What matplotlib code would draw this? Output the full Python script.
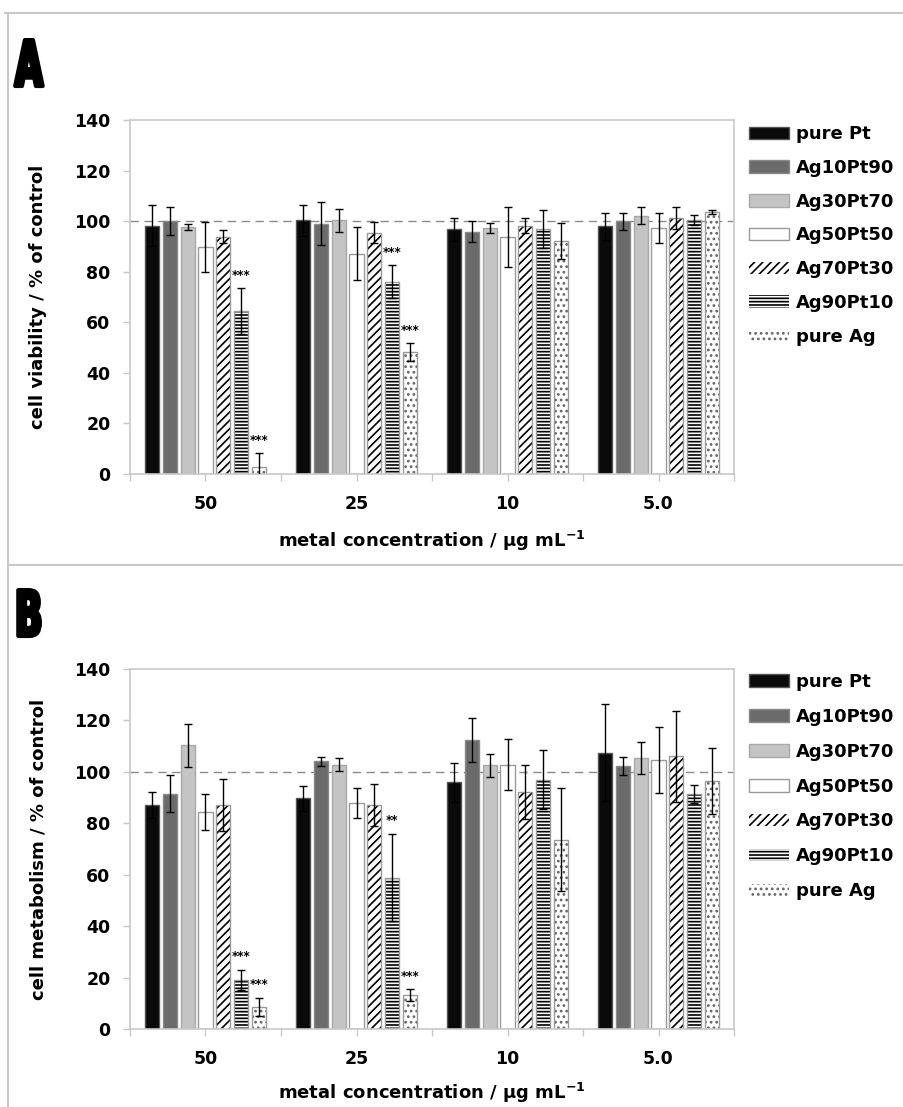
import numpy as np
import matplotlib.pyplot as plt
from matplotlib.lines import Line2D
from matplotlib.textpath import TextPath
from matplotlib.patches import PathPatch
from matplotlib.font_manager import FontProperties
from matplotlib.transforms import Affine2D

# categories and series
categories = ['50', '25', '10', '5.0']
series = ['pure Pt', 'Ag10Pt90', 'Ag30Pt70', 'Ag50Pt50', 'Ag70Pt30', 'Ag90Pt10', 'pure Ag']

# panel A: cell viability (% of control), one row per series
viab = [
    [98.2, 100.3, 96.8, 97.9],
    [99.9, 98.9, 95.9, 99.9],
    [97.5, 100.3, 97.2, 102.2],
    [89.7, 87.1, 93.7, 97.2],
    [93.9, 95.5, 98.2, 101.2],
    [64.5, 76.1, 97.0, 100.5],
    [2.9, 48.2, 92.1, 103.6],
]
viab_err = [
    [8.0, 6.2, 4.6, 5.4],
    [5.5, 8.5, 4.0, 3.5],
    [1.2, 4.6, 2.0, 3.2],
    [9.8, 10.5, 11.7, 6.0],
    [2.5, 4.0, 3.0, 4.3],
    [9.0, 6.5, 7.5, 2.0],
    [5.5, 3.5, 7.0, 0.7],
]

# panel B: cell metabolism (% of control)
metab = [
    [87.1, 89.7, 95.9, 107.5],
    [91.5, 104.1, 112.5, 102.3],
    [110.3, 102.8, 102.5, 105.3],
    [84.3, 87.9, 102.8, 104.6],
    [87.1, 87.1, 92.0, 106.0],
    [19.2, 58.9, 97.0, 91.5],
    [8.6, 13.2, 73.6, 96.4],
]
metab_err = [
    [5.2, 4.9, 7.5, 19.0],
    [7.1, 1.7, 8.5, 3.6],
    [8.4, 2.6, 4.5, 6.2],
    [7.1, 6.0, 10.0, 12.9],
    [10.0, 8.0, 10.5, 17.6],
    [3.9, 17.0, 11.6, 3.5],
    [3.6, 2.2, 20.0, 12.7],
]

# significance marks: (series index, category index, label)
viab_sig = [(5, 0, '***'), (6, 0, '***'), (5, 1, '***'), (6, 1, '***')]
metab_sig = [(5, 0, '***'), (6, 0, '***'), (5, 1, '**'), (6, 1, '***')]

# bar styles per series
faces = ['#0a0a0a', '#6b6b6b', '#c4c4c4', 'white', 'white', 'white', 'white']
edges = ['#555555', '#8a8a8a', '#a8a8a8', '#9a9a9a', '#9a9a9a', '#9a9a9a', '#9a9a9a']
hatches = [None, None, None, None, '////', '-----', '...']
hatch_cols = [None, None, None, None, 'black', 'black', '#666666']

plt.rcParams['font.family'] = 'DejaVu Sans'
plt.rcParams['font.weight'] = 'bold'
plt.rcParams['hatch.linewidth'] = 1.2

W, H = 904, 1107
fig = plt.figure(figsize=(W / 100, H / 100), dpi=100)

step = 0.119
width = 0.093
grey = '#c8c8c8'


def draw_panel(ax, vals, errs, sig, ylabel, xlab_y, leg_y, leg_space):
    x = np.arange(len(categories))
    ax.axhline(100, color='#8a8a8a', ls=(0, (6, 4)), lw=1, zorder=0.5)
    handles = []
    for i, name in enumerate(series):
        xs = x + (i - 3) * step
        if hatches[i]:
            h = ax.bar(xs, vals[i], width, color='white', edgecolor=hatch_cols[i],
                       hatch=hatches[i], linewidth=0, zorder=2)
            ax.bar(xs, vals[i], width, fill=False, edgecolor=edges[i], linewidth=1, zorder=2.5)
        else:
            h = ax.bar(xs, vals[i], width, color=faces[i], edgecolor=edges[i],
                       linewidth=1, zorder=2)
        ax.errorbar(xs, vals[i], yerr=errs[i], fmt='none', ecolor='black',
                    elinewidth=1, capsize=3, capthick=1, zorder=3)
        handles.append(h)
    for s, c, lab in sig:
        ax.text(c + (s - 3) * step, vals[s][c] + errs[s][c] + 5, lab,
                ha='center', va='center', fontsize=8.5, fontweight='bold')

    ax.set_xlim(-0.5, len(categories) - 0.5)
    ax.set_ylim(0, 140)
    ax.set_yticks(np.arange(0, 141, 20))
    ax.set_xticks(x)
    ax.set_xticklabels(categories)
    ax.set_xticks(np.arange(len(categories) + 1) - 0.5, minor=True)
    ax.tick_params(axis='both', which='both', color=grey, length=5, width=1,
                   labelsize=12.5)
    ax.tick_params(axis='y', pad=9)
    ax.tick_params(axis='x', pad=10)
    for sp in ax.spines.values():
        sp.set_color(grey)
        sp.set_linewidth(1.2)
    ax.set_ylabel(ylabel, fontsize=13, fontweight='bold')
    ax.yaxis.set_label_coords(-0.137, 0.5)
    ax.set_xlabel(r'metal concentration / µg mL$^{\mathbf{-1}}$', fontsize=13,
                  fontweight='bold', va='top')
    ax.xaxis.set_label_coords(0.5, xlab_y)
    ax.legend(handles, series, loc='upper left', bbox_to_anchor=(1.025, leg_y),
              frameon=False, fontsize=13, handlelength=2.2, handleheight=0.7,
              labelspacing=leg_space, handletextpad=0.4, borderpad=0, borderaxespad=0)


axA = fig.add_axes([130 / W, 1 - 474 / H, 604 / W, 354 / H])
draw_panel(axA, viab, viab_err, viab_sig, 'cell viability / % of control', -0.155,
           0.985, 0.87)

axB = fig.add_axes([130 / W, 1 - 1029 / H, 604 / W, 360 / H])
draw_panel(axB, metab, metab_err, metab_sig, 'cell metabolism / % of control', -0.145,
           0.99, 0.94)

# panel frames
fig.add_artist(Line2D([5 / W, 1], [1 - 13 / H] * 2, color=grey, lw=1.5))
fig.add_artist(Line2D([8 / W] * 2, [1 - 13 / H, 0], color=grey, lw=1.5))
fig.add_artist(Line2D([8 / W, 1], [1 - 565 / H] * 2, color=grey, lw=1.5))


# condensed heavy panel letters
def panel_letter(s, x_px, base_px):
    tp = TextPath((0, 0), s, size=1, prop=FontProperties(family='DejaVu Sans', weight='bold'))
    tr = Affine2D().scale(36, 63).translate(x_px, H - base_px)
    fig.add_artist(PathPatch(tp, transform=tr, facecolor='black', edgecolor='black',
                             lw=3, joinstyle='round'))


panel_letter('A', 15, 86)
panel_letter('B', 15, 636)

fig.savefig('out.png', dpi=100)
